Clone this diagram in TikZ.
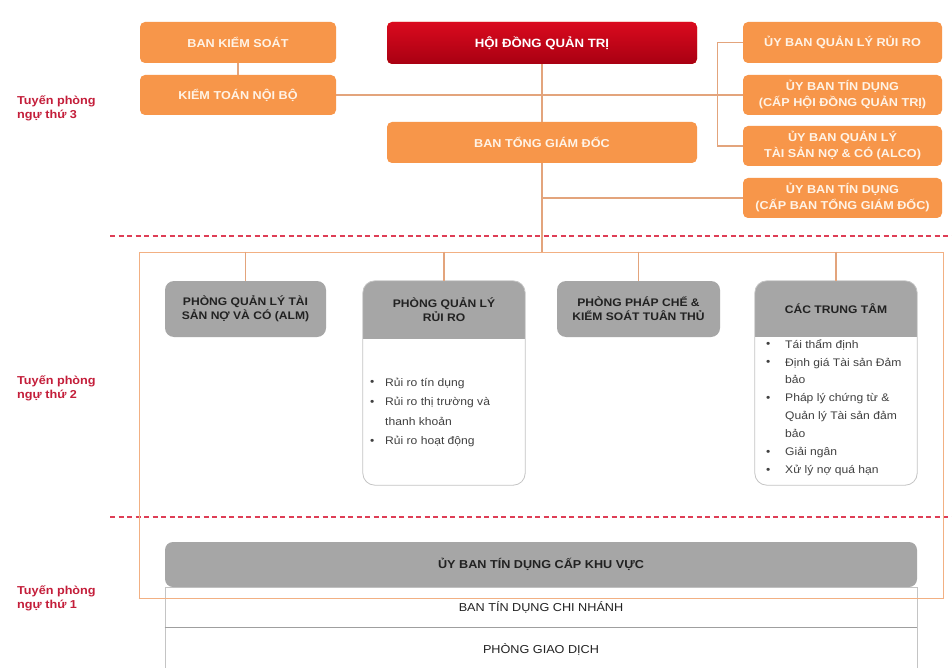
\documentclass[tikz,border=0pt]{standalone}
\usepackage{fontspec}
\setmainfont[FakeStretch=1.1]{Liberation Sans}
\usetikzlibrary{calc}
\definecolor{orfill}{HTML}{F7964A}
\definecolor{ortext}{HTML}{FFF3E6}
\definecolor{redtop}{HTML}{DA0A1E}
\definecolor{redbot}{HTML}{A80012}
\definecolor{conncol}{HTML}{E3A47C}
\definecolor{framecol}{HTML}{F2B083}
\definecolor{hdgray}{HTML}{A6A6A6}
\definecolor{txtdark}{HTML}{222222}
\definecolor{bodyline}{HTML}{C4C4C4}
\definecolor{lblred}{HTML}{C41E3A}
\definecolor{dashred}{HTML}{DE3E56}
\definecolor{listtxt}{HTML}{404040}
\begin{document}
\begin{tikzpicture}[x=1pt,y=-1pt,
  obox/.style={rectangle, rounded corners=5pt, fill=orfill, text=ortext, align=center, inner sep=0pt,
    font=\bfseries\fontsize{11.5}{16}\selectfont},
  rbox/.style={obox, top color=redtop, bottom color=redbot, text=white, font=\bfseries\fontsize{12}{16}\selectfont},
  gbox/.style={rectangle, rounded corners=9pt, fill=hdgray, text=txtdark, align=center, inner sep=0pt,
    font=\bfseries\fontsize{11}{14}\selectfont},
  htxt/.style={text=txtdark, align=center, inner sep=0pt, font=\bfseries\fontsize{11}{14}\selectfont},
  body/.style={rectangle, fill=white, inner sep=0pt},
  conn/.style={draw=conncol, line width=1.1pt},
  frame/.style={draw=framecol, line width=1pt, inner sep=0pt},
  dashline/.style={draw=dashred, line width=1.4pt, dash pattern=on 5pt off 3.5pt},
  lbl/.style={text=lblred, align=left, inner sep=0pt, font=\bfseries\fontsize{11.5}{14}\selectfont},
  listnode/.style={text=listtxt, align=left, inner sep=0pt},
  rowbox/.style={draw=bodyline, line width=0.8pt, inner sep=0pt, text=txtdark,
    font=\fontsize{11.5}{13}\selectfont},
]
\useasboundingbox (0,0) rectangle (952,668);
\fill[white] (0,0) rectangle (952,668);

% dashed separators
\coordinate (d1a) at (110,236); \coordinate (d1b) at (952,236);
\coordinate (d2a) at (110,517); \coordinate (d2b) at (952,517);
\draw[dashline] (d1a) -- (d1b);
\draw[dashline] (d2a) -- (d2b);

% left labels
\node[lbl, anchor=west] (l3) at (17,108) {Tuyến phòng\\ngự thứ 3};
\node[lbl, anchor=west] (l2) at (17,388.5) {Tuyến phòng\\ngự thứ 2};
\node[lbl, anchor=west] (l1) at (17,598.5) {Tuyến phòng\\ngự thứ 1};

% frame (line 2 container)
\node[frame, minimum width=804, minimum height=346] (frame) at (541,425) {};

% top level boxes
\node[obox, minimum width=196, minimum height=41] (bks) at (238,42.5) {BAN KIỂM SOÁT};
\node[obox, minimum width=196, minimum height=40] (ktnb) at (238,95) {KIỂM TOÁN NỘI BỘ};
\node[rbox, minimum width=310, minimum height=42] (hdqt) at (542,43) {HỘI ĐỒNG QUẢN TRỊ};
\node[obox, minimum width=310, minimum height=41] (btgd) at (542,142.5) {BAN TỔNG GIÁM ĐỐC};
\node[obox, minimum width=199, minimum height=41] (ub1) at (842.5,42.5) {ỦY BAN QUẢN LÝ RỦI RO};
\node[obox, minimum width=199, minimum height=40] (ub2) at (842.5,95) {ỦY BAN TÍN DỤNG\\(CẤP HỘI ĐỒNG QUẢN TRỊ)};
\node[obox, minimum width=199, minimum height=40] (ub3) at (842.5,146) {ỦY BAN QUẢN LÝ\\TÀI SẢN NỢ \& CÓ (ALCO)};
\node[obox, minimum width=199, minimum height=40] (ub4) at (842.5,198) {ỦY BAN TÍN DỤNG\\(CẤP BAN TỔNG GIÁM ĐỐC)};

% connectors top
\draw[conn] (bks.south) -- (ktnb.north);
\draw[conn] (ktnb.east) -- (ub2.west);
\draw[conn] (hdqt.south) -- (btgd.north);
\draw[conn] (btgd.south) -- (btgd.south |- frame.north);
\draw[conn] (ub1.west) -- ++(-25,0) |- (ub3.west);
\draw[conn] (ub4.west) -- (ub4.west -| btgd.south);

% line 2 departments
\node[gbox, minimum width=161, minimum height=56] (alm) at (245.5,309) {PHÒNG QUẢN LÝ TÀI\\SẢN NỢ VÀ CÓ (ALM)};
\node[gbox, minimum width=163, minimum height=56] (pc) at (638.5,309) {PHÒNG PHÁP CHẾ \&\\KIỂM SOÁT TUÂN THỦ};

% risk management composite
\node[body, minimum width=162, minimum height=204] (rr) at (444,383) {};
\coordinate (rrhb) at (0,339);
\begin{scope}
  \clip[rounded corners=12pt] (rr.south west) rectangle (rr.north east);
  \fill[hdgray] (rr.north west) rectangle (rr.east |- rrhb);
\end{scope}
\draw[bodyline, line width=0.8pt, rounded corners=12pt] (rr.south west) rectangle (rr.north east);
\node[htxt] (rrh) at (444,310) {PHÒNG QUẢN LÝ\\RỦI RO};

% centers composite
\node[body, minimum width=162, minimum height=204] (ctt) at (836,383) {};
\coordinate (ctthb) at (0,337);
\begin{scope}
  \clip[rounded corners=12pt] (ctt.south west) rectangle (ctt.north east);
  \fill[hdgray] (ctt.north west) rectangle (ctt.east |- ctthb);
\end{scope}
\draw[bodyline, line width=0.8pt, rounded corners=12pt] (ctt.south west) rectangle (ctt.north east);
\node[htxt] (ctth) at (836,309) {CÁC TRUNG TÂM};

% drops from bus
\draw[conn] (alm.north |- frame.north) -- (alm.north);
\draw[conn] (rr.north |- frame.north) -- (rr.north);
\draw[conn] (pc.north |- frame.north) -- (pc.north);
\draw[conn] (ctt.north |- frame.north) -- (ctt.north);

% lists
\newcommand{\bul}[1]{\makebox[#1][l]{\raisebox{0.3pt}{\scalebox{1.0}{•}}}}
\node[listnode, anchor=west, font=\fontsize{11}{19.5}\selectfont] (rrlist) at (370,412.5)
  {\bul{15pt}Rủi ro tín dụng\\\bul{15pt}Rủi ro thị trường và\\\hspace*{15pt}thanh khoản\\\bul{15pt}Rủi ro hoạt động};
\node[listnode, anchor=west, font=\fontsize{11}{17.9}\selectfont] (cttlist) at (766,407.5)
  {\bul{19pt}Tái thẩm định\\\bul{19pt}Định giá Tài sản Đảm\\\hspace*{19pt}bảo\\\bul{19pt}Pháp lý chứng từ \&\\\hspace*{19pt}Quản lý Tài sản đảm\\\hspace*{19pt}bảo\\\bul{19pt}Giải ngân\\\bul{19pt}Xử lý nợ quá hạn};

% line 1
\node[rowbox, minimum width=752, minimum height=44] (row2) at (541,649) {PHÒNG GIAO DỊCH};
\node[rowbox, minimum width=752, minimum height=40] (row1) at (541,607) {BAN TÍN DỤNG CHI NHÁNH};
\draw[draw=gray!75, line width=1.2pt] (row1.south west) -- (row1.south east);
\node[gbox, rounded corners=8pt, minimum width=752, minimum height=45, font=\bfseries\fontsize{11.5}{13}\selectfont] (kv) at (541,564.5) {ỦY BAN TÍN DỤNG CẤP KHU VỰC};
\draw[draw=framecol, line width=1pt] (frame.south west) -- (frame.south east);
\end{tikzpicture}
\end{document}
